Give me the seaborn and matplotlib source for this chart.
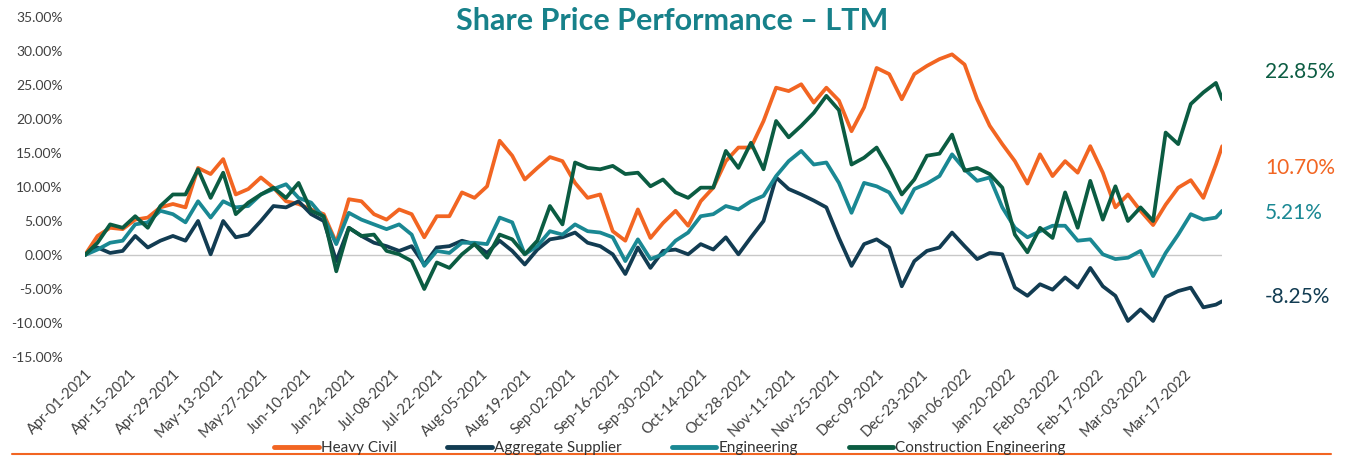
import pandas as pd
import seaborn as sns
import matplotlib.pyplot as plt
import matplotlib.dates as mdates
from matplotlib.lines import Line2D
from matplotlib.ticker import FuncFormatter

# sample dates: every 4 days from Apr-01-2021, last close Mar-29-2022
dates = list(pd.date_range('2021-04-01', periods=91, freq='4D')) + [pd.Timestamp('2022-03-29')]

heavy_civil = [0, 2.8, 4.0, 3.8, 5.2, 5.5, 7.0, 7.5, 7.0, 12.8, 11.9, 14.1, 8.9, 9.7, 11.4, 9.9,
               7.9, 7.5, 6.7, 6.0, 1.8, 8.2, 7.9, 6.0, 5.2, 6.7, 6.0, 2.6, 5.7, 5.7, 9.2,
               8.4, 10.1, 16.8, 14.6, 11.1, 12.8, 14.4, 13.8, 10.6, 8.4, 8.9, 3.5, 2.1, 6.7, 2.5,
               4.7, 6.5, 4.3, 7.9, 9.9, 13.8, 15.8, 15.8, 19.7, 24.6, 24.1, 25.1, 22.4, 24.6, 22.7,
               18.2, 21.7, 27.5, 26.6, 22.9, 26.6, 27.8, 28.8, 29.5, 28.0, 22.9, 19.0, 16.3, 13.8, 10.5,
               14.8, 11.6, 13.8, 12.1, 16.0, 12.1, 7.0, 8.9, 6.5, 4.4, 7.4, 9.9, 11.0, 8.4, 13.3, 16.0]

aggregate_supplier = [0, 1.1, 0.3, 0.6, 2.8, 1.1, 2.1, 2.8, 2.1, 5.0, 0.1, 5.0, 2.6, 3.0, 5.0, 7.2,
                      7.0, 7.9, 6.0, 5.0, -0.9, 4.0, 2.8, 1.8, 1.3, 0.6, 1.3, -1.4, 1.1, 1.3, 2.1,
                      1.6, 0.3, 2.1, 0.6, -1.4, 0.8, 2.3, 2.6, 3.3, 1.8, 1.3, 0.1, -2.8, 1.1, -1.9,
                      0.6, 0.8, 0.1, 1.6, 0.8, 2.6, 0.1, 2.6, 5.0, 11.4, 9.7, 8.9, 8.0, 7.0, 2.5,
                      -1.6, 1.6, 2.3, 1.1, -4.6, -0.9, 0.6, 1.1, 3.3, 1.3, -0.6, 0.3, 0.1, -4.8, -6.0,
                      -4.3, -5.1, -3.3, -4.8, -1.9, -4.6, -6.0, -9.7, -8.0, -9.7, -6.2, -5.3, -4.8, -7.7, -7.3, -6.8]

engineering = [0, 0.8, 1.8, 2.1, 4.5, 4.8, 6.5, 6.0, 4.8, 7.9, 5.5, 7.9, 7.0, 7.2, 8.9, 9.7,
               10.4, 8.4, 7.7, 5.5, 1.6, 6.2, 5.2, 4.5, 3.8, 4.5, 3.0, -1.6, 0.6, 0.3, 1.8,
               1.8, 1.6, 5.5, 4.8, 0.1, 1.3, 3.5, 3.0, 4.5, 3.5, 3.3, 2.6, -0.9, 2.3, -0.6,
               0.1, 2.1, 3.3, 5.7, 6.0, 7.2, 6.7, 7.9, 8.7, 11.6, 13.8, 15.3, 13.3, 13.6, 10.6,
               6.2, 10.6, 10.1, 9.2, 6.2, 9.7, 10.5, 11.6, 14.8, 12.6, 10.9, 11.4, 7.0, 4.0, 2.6,
               3.5, 4.3, 4.3, 2.1, 2.3, 0.1, -0.6, -0.4, 0.6, -3.1, 0.3, 3.0, 6.0, 5.2, 5.5, 6.5]

construction_engineering = [0, 1.8, 4.5, 4.0, 5.7, 4.0, 7.2, 8.9, 8.9, 12.6, 8.4, 12.1, 6.0, 7.7, 8.9, 9.9,
                            8.4, 10.6, 6.5, 5.7, -2.4, 4.0, 2.8, 3.0, 0.6, 0.1, -0.9, -5.0, -1.1, -1.9, 0.1,
                            1.6, -0.4, 3.0, 2.3, 0.1, 2.1, 7.2, 4.5, 13.6, 12.8, 12.6, 13.1, 11.9, 12.1, 10.1,
                            11.1, 9.2, 8.4, 9.9, 9.9, 15.3, 12.8, 16.5, 12.6, 19.7, 17.3, 19.0, 20.9, 23.4, 21.3,
                            13.3, 14.3, 15.8, 12.6, 8.9, 11.1, 14.6, 14.9, 17.7, 12.4, 12.8, 11.9, 9.9, 3.0, 0.4,
                            4.0, 2.5, 9.2, 4.0, 10.9, 5.2, 10.1, 5.0, 7.0, 5.0, 18.0, 16.3, 22.2, 23.9, 25.3, 22.9]

series_names = ['Heavy Civil', 'Aggregate Supplier', 'Engineering', 'Construction Engineering']
series_colors = ['#F26522', '#123C52', '#1A8893', '#0B5C42']
end_labels = ['10.70%', '-8.25%', '5.21%', '22.85%']

frames = []
for name, vals in zip(series_names, [heavy_civil, aggregate_supplier, engineering, construction_engineering]):
    frames.append(pd.DataFrame({'date': dates, 'value': vals, 'series': name}))
df = pd.concat(frames, ignore_index=True)

sns.set_style('white')
plt.rcParams['font.family'] = ['Lato', 'DejaVu Sans']

fig = plt.figure(figsize=(13.55, 4.58), dpi=100)
ax = fig.add_axes([0.0627, 0.2205, 0.8393, 0.7425])

sns.lineplot(data=df, x='date', y='value', hue='series', hue_order=series_names,
             palette=series_colors, linewidth=2.7, ax=ax, legend=False)

ax.axhline(0, color='#C8C8C8', linewidth=1, zorder=0)
ax.set_xlim(dates[0], dates[-1])
ax.set_ylim(-15, 35)
ax.set_yticks(range(-15, 36, 5))
ax.yaxis.set_major_formatter(FuncFormatter(lambda v, p: f'{v:.2f}%'))
ax.set_xticks(pd.date_range('2021-04-01', '2022-03-17', freq='14D'))
ax.xaxis.set_major_formatter(mdates.DateFormatter('%b-%d-%Y'))
plt.setp(ax.get_xticklabels(), rotation=45, ha='right', rotation_mode='anchor')
ax.tick_params(axis='both', length=0, labelsize=10, colors='#404040')
ax.tick_params(axis='x', labelsize=10.5, pad=7)
ax.tick_params(axis='y', pad=16)
ax.set_xlabel('')
ax.set_ylabel('')
for s in ax.spines.values():
    s.set_visible(False)

fig.text(0.496, 0.955, 'Share Price Performance – LTM', ha='center', va='center',
         fontsize=22, fontweight='bold', color='#17818A')

# end-of-period labels
label_y = [0.633, 0.352, 0.535, 0.843]
for txt, col, yy in zip(end_labels, series_colors, label_y):
    fig.text(0.9336, yy, txt, ha='left', va='center', fontsize=15, color=col)

handles = [Line2D([0], [0], color=c, linewidth=3.5) for c in series_colors]
fig.legend(handles, series_names, loc='center', bbox_to_anchor=(0.4945, 0.022), ncol=4,
           frameon=False, fontsize=11, handlelength=2.9, handletextpad=0.15, columnspacing=3.3,
           labelcolor='#333333', borderpad=0.1)

fig.add_artist(Line2D([0.009, 0.982], [0.008, 0.008], color='#F26522', linewidth=1.5))

fig.savefig('out.png', dpi=100)
